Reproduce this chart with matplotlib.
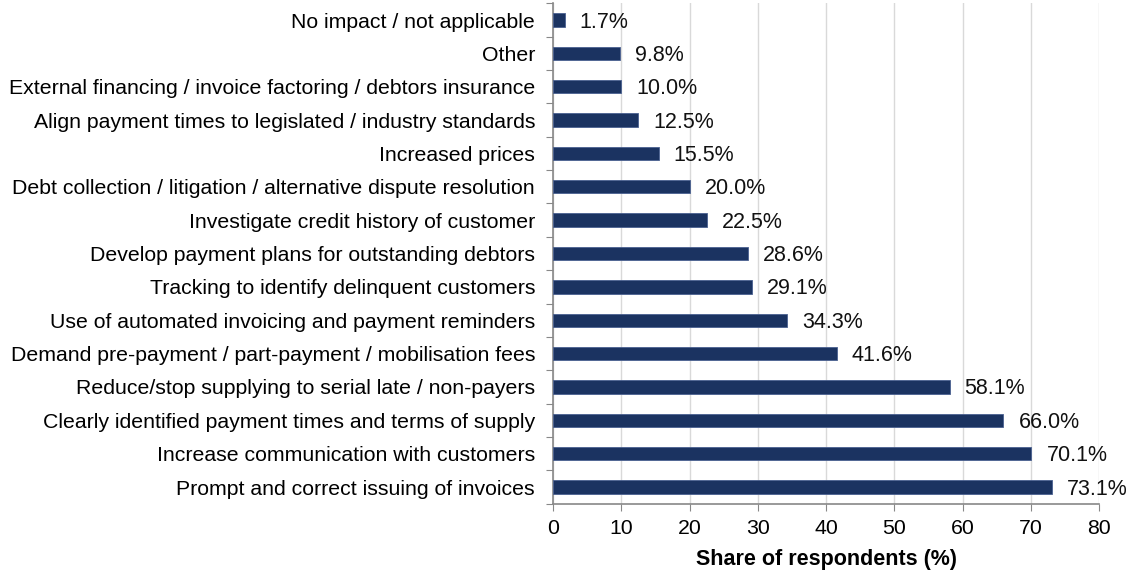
import matplotlib.pyplot as plt

plt.rcParams['font.family'] = ['Liberation Sans', 'DejaVu Sans']

categories = [
    "No impact / not applicable",
    "Other",
    "External financing / invoice factoring / debtors insurance",
    "Align payment times to legislated / industry standards",
    "Increased prices",
    "Debt collection / litigation / alternative dispute resolution",
    "Investigate credit history of customer",
    "Develop payment plans for outstanding debtors",
    "Tracking to identify delinquent customers",
    "Use of automated invoicing and payment reminders",
    "Demand pre-payment / part-payment / mobilisation fees",
    "Reduce/stop supplying to serial late / non-payers",
    "Clearly identified payment times and terms of supply",
    "Increase communication with customers",
    "Prompt and correct issuing of invoices",
]
values = [1.7, 9.8, 10.0, 12.5, 15.5, 20.0, 22.5, 28.6, 29.1, 34.3, 41.6, 58.1, 66.0, 70.1, 73.1]
x_ticks = [0, 10, 20, 30, 40, 50, 60, 70, 80]

fig = plt.figure(figsize=(11.28, 5.73), dpi=100)
ax = fig.add_axes([0.4903, 0.1209, 0.4840, 0.8733])

pos = list(range(len(categories)))
ax.barh(pos, values, height=0.4, color='#1b3361', edgecolor='#4a6090', linewidth=0.6, zorder=3)
for p, v in zip(pos, values):
    ax.text(v + 2.2, p + 0.06, "%.1f%%" % v, va='center', ha='left', fontsize=15.5, color='#111111')

ax.set_ylim(len(categories) - 0.5, -0.5)
ax.set_xlim(0, 80)
ax.set_xticks(x_ticks)
ax.set_yticks([p - 0.5 for p in pos] + [len(categories) - 0.5], minor=False)
ax.set_yticklabels([])
ax.set_yticks(pos, minor=True)
ax.set_yticklabels(categories, minor=True)
ax.tick_params(axis='y', which='minor', length=0, pad=13, labelsize=15.3)
ax.tick_params(axis='y', which='major', length=5, color='#888888')
ax.tick_params(axis='x', length=5, color='#888888', labelsize=15.3, pad=6)

ax.grid(axis='x', color='#d9d9d9', linewidth=1, zorder=0)
for s in ['top', 'right']:
    ax.spines[s].set_visible(False)
for s in ['left', 'bottom']:
    ax.spines[s].set_color('#888888')
    ax.spines[s].set_linewidth(1.2)

ax.set_xlabel("Share of respondents (%)", fontsize=15.5, fontweight='bold', labelpad=8)

fig.savefig('out.png', dpi=100)
